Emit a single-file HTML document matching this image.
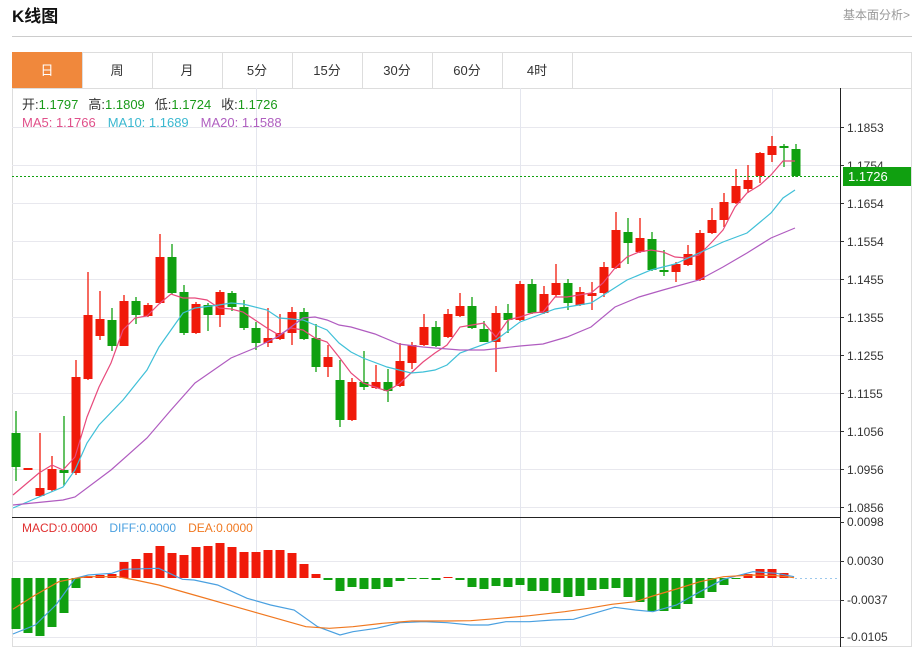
<!DOCTYPE html>
<html><head><meta charset="utf-8"><style>
body{margin:0;background:#fff;width:919px;height:647px;overflow:hidden;font-family:"Liberation Sans","Noto Sans CJK SC",sans-serif;}
svg{position:absolute;left:0;top:0}
</style></head><body>
<svg id="s" width="919" height="647" xmlns="http://www.w3.org/2000/svg" font-family="Liberation Sans, Noto Sans CJK SC, sans-serif">
<text x="12" y="22" font-size="17" font-weight="bold" fill="#111">K线图</text>
<text x="910" y="19" font-size="12" fill="#999" text-anchor="end">基本面分析&gt;</text>
<line x1="12" y1="36.5" x2="912" y2="36.5" stroke="#ccc"/>
<rect x="12.5" y="52.5" width="899" height="594" fill="none" stroke="#ddd"/>
<line x1="12" y1="88.5" x2="912" y2="88.5" stroke="#ddd"/>
<rect x="12" y="52" width="70" height="36" fill="#f0883c"/>
<g id="tabs" font-size="13" fill="#333" text-anchor="middle"></g>
<g id="g"></g>
</svg>
<script>
(function(){
var s=document.getElementById('g'),h='';
var tabs=['日','周','月','5分','15分','30分','60分','4时'],t='';
for(var i=0;i<8;i++){var x=12+70*i;t+='<text x="'+(x+35)+'" y="75" '+(i==0?'fill="#fff"':'')+'>'+tabs[i]+'</text>';if(i>0)t+='<line x1="'+(x+0.5)+'" y1="52" x2="'+(x+0.5)+'" y2="88" stroke="#ddd"/>';}
t+='<line x1="572.5" y1="52" x2="572.5" y2="88" stroke="#ddd"/>';
document.getElementById('tabs').innerHTML=t;
var lv=['1.1853','1.1754','1.1654','1.1554','1.1455','1.1355','1.1255','1.1155','1.1056','1.0956','1.0856'];
for(var k=0;k<11;k++){var y=127+38*k;h+='<line x1="12" y1="'+(y+.5)+'" x2="840" y2="'+(y+.5)+'" stroke="#e8e8ee"/>';
h+='<line x1="840" y1="'+(y+.5)+'" x2="844" y2="'+(y+.5)+'" stroke="#333"/><text x="847" y="'+(y+5)+'" font-size="12" fill="#333">'+lv[k]+'</text>';}
[256,520,772].forEach(function(x){h+='<line x1="'+(x+.5)+'" y1="88" x2="'+(x+.5)+'" y2="647" stroke="#e4e6ee"/>';});
[561,600,637].forEach(function(y){h+='<line x1="12" y1="'+(y+.5)+'" x2="840" y2="'+(y+.5)+'" stroke="#e8e8ee"/>';});
var C=[[433,467,411,481,0],[468,469,468,469,1],[496,488,433,497,1],[490,469,456,492,1],[470,473,416,486,0],[473,377,360,475,1],[379,315,272,380,1],[336,319,291,340,1],[320,346,308,351,0],[346,301,295,346,1],[301,315,297,324,0],[316,305,303,317,1],[303,257,234,304,1],[257,293,244,294,0],[292,333,285,335,0],[333,304,302,334,1],[305,315,303,331,0],[315,292,290,327,1],[293,307,291,311,0],[307,328,300,330,0],[328,343,322,350,0],[343,338,308,347,1],[339,333,314,340,1],[333,312,307,345,1],[312,339,308,340,0],[338,367,324,372,0],[367,357,345,377,1],[380,420,360,427,0],[420,382,378,421,1],[382,387,351,390,0],[388,382,365,389,1],[382,391,369,402,0],[386,361,343,387,1],[363,345,342,369,1],[345,327,314,346,1],[327,346,321,347,0],[337,314,309,338,1],[316,306,293,317,1],
[306,328,297,329,0],[329,342,321,342,0],[342,313,306,372,1],[313,320,304,333,0],[320,284,281,321,1],[284,313,279,314,0],[313,294,286,314,1],[295,283,264,297,1],[283,303,279,310,0],[305,292,287,306,1],[296,293,282,310,1],[293,267,262,297,1],[268,230,212,269,1],[232,243,218,264,0],[252,238,218,253,1],[239,270,232,271,0],[270,272,250,276,0],[272,264,262,282,1],[265,254,245,266,1],[280,233,230,281,1],[233,220,208,234,1],[220,202,193,227,1],[203,186,169,204,1],[189,180,165,193,1],[176,153,152,183,1],[155,146,136,162,1],[146,148,144,167,0],[149,176,144,177,0]];
for(var i=0;i<C.length;i++){var c=C[i],x=16+12*i,col=c[4]?'#f01a0a':'#10a010';var tp=Math.min(c[0],c[1]),bh=Math.max(2,Math.abs(c[1]-c[0]));
h+='<line x1="'+x+'" y1="'+c[2]+'" x2="'+x+'" y2="'+c[3]+'" stroke="'+col+'" stroke-width="1.3"/><rect x="'+(x-4.5)+'" y="'+tp+'" width="9" height="'+bh+'" fill="'+col+'"/>';}
function pl(p,col){return '<polyline fill="none" stroke="'+col+'" stroke-width="1.2" points="'+p+'"/>';}
h+=pl('13,495 39,473 52,465 63,470 75,457 87,417 99,387 111,363 123,330 135,318 147,316 159,304 171,294 183,298 195,298 207,300 219,308 231,309 243,312 255,320 267,328 279,335 291,328 303,330 315,338 327,342 339,357 351,373 363,383 375,387 387,391 399,384 411,373 423,362 435,353 447,345 460,327 472,325 484,323 496,337 508,320 520,317 532,313 543,312 555,297 567,297 579,295 591,293 603,283 615,268 627,257 639,252 651,250 663,252 675,257 687,258 699,255 711,243 723,230 735,207 747,193 760,185 771,175 783,161 795,161','#e84a7c');
h+=pl('13,508 39,497 63,487 75,470 87,443 99,425 123,400 147,370 159,347 171,330 183,313 195,308 219,305 231,303 243,304 267,310 279,318 303,320 315,325 327,330 339,343 351,352 363,358 387,367 411,373 423,372 435,370 447,365 460,353 496,340 520,322 555,309 591,303 627,280 651,270 675,264 699,253 723,242 747,233 759,223 771,213 783,198 795,190','#40c0d8');
h+=pl('13,505 63,500 75,497 111,470 147,438 171,410 195,383 231,358 255,348 279,336 303,318 315,317 327,320 339,325 351,327 375,334 399,344 423,347 460,350 484,350 520,346 543,344 567,337 591,327 615,307 639,297 663,290 699,280 723,267 747,253 771,238 795,228','#b05cc0');
h+='<line x1="12" y1="176.5" x2="840" y2="176.5" stroke="#10a010" stroke-dasharray="2,2"/><rect x="843" y="167" width="68" height="19" fill="#10a010"/><text x="848" y="181" font-size="13" fill="#fff">1.1726</text>';
h+='<line x1="840.5" y1="88" x2="840.5" y2="647" stroke="#222"/><line x1="12" y1="517.5" x2="840" y2="517.5" stroke="#222"/>';
var ml=[['0.0098',522],['0.0030',561],['-0.0037',600],['-0.0105',637]];
ml.forEach(function(m){h+='<line x1="840" y1="'+(m[1]+.5)+'" x2="844" y2="'+(m[1]+.5)+'" stroke="#333"/><text x="847" y="'+(m[1]+4)+'" font-size="12" fill="#333">'+m[0]+'</text>';});
var B=[629,633,636,627,613,588,576,575,574,562,559,553,546,553,555,547,546,543,547,552,552,550,550,553,564,574,580,591,587,589,589,587,581,578,579,580,577,580,587,589,586,587,585,591,591,593,597,596,590,589,588,597,602,611,611,609,604,598,592,585,579,574,569,569,573];
var z=578;
for(var i=0;i<B.length;i++){var x=16+12*i,y=B[i],col=y<z?'#f01a0a':'#10a010';var tp=Math.min(y,z),bh=Math.max(1,Math.abs(y-z));h+='<rect x="'+(x-4.5)+'" y="'+tp+'" width="9" height="'+bh+'" fill="'+col+'"/>';}
function cv(a){var o=[];for(var i=0;i<a.length;i+=2)o.push((a[i]/1.7).toFixed(1)+','+(510+a[i+1]/3).toFixed(1));return o.join(' ');}
h+=pl(cv([22,372,60,345,95,285,128,205,150,195,190,190,210,178,270,175,310,208,330,210,370,225,420,265,460,285,500,300,540,350,578,375,600,365,640,355,680,338,720,335,760,338,800,345,830,345,860,335,900,335,940,330,975,328,1010,310,1045,292,1080,300,1110,305,1150,285,1190,245,1230,208,1280,185,1320,190,1350,200]),'#4aa0e0');
h+=pl(cv([22,298,60,255,100,215,128,205,150,200,200,200,230,210,270,225,330,255,400,290,460,320,520,350,560,355,600,350,650,340,700,333,760,333,800,332,850,325,900,317,960,305,1000,295,1040,283,1080,275,1110,258,1150,237,1190,215,1230,200,1280,195,1320,197,1350,203]),'#f07820');
h+='<line x1="795" y1="578.5" x2="840" y2="578.5" stroke="#9cc8ec" stroke-dasharray="2,3"/>';
h+='<text x="22" y="109" font-size="13"><tspan fill="#333">开:</tspan><tspan fill="#1a9a1a">1.1797</tspan><tspan fill="#333" dx="10">高:</tspan><tspan fill="#1a9a1a">1.1809</tspan><tspan fill="#333" dx="10">低:</tspan><tspan fill="#1a9a1a">1.1724</tspan><tspan fill="#333" dx="10">收:</tspan><tspan fill="#1a9a1a">1.1726</tspan></text>';
h+='<text x="22" y="127" font-size="13"><tspan fill="#e0508a">MA5: 1.1766</tspan><tspan fill="#3bb8d0" dx="12">MA10: 1.1689</tspan><tspan fill="#b060c0" dx="12">MA20: 1.1588</tspan></text>';
h+='<text x="22" y="532" font-size="12"><tspan fill="#e03030">MACD:0.0000</tspan><tspan fill="#4aa0e0" dx="12">DIFF:0.0000</tspan><tspan fill="#f07820" dx="12">DEA:0.0000</tspan></text>';
s.innerHTML=h;
})();
</script>
</body></html>
